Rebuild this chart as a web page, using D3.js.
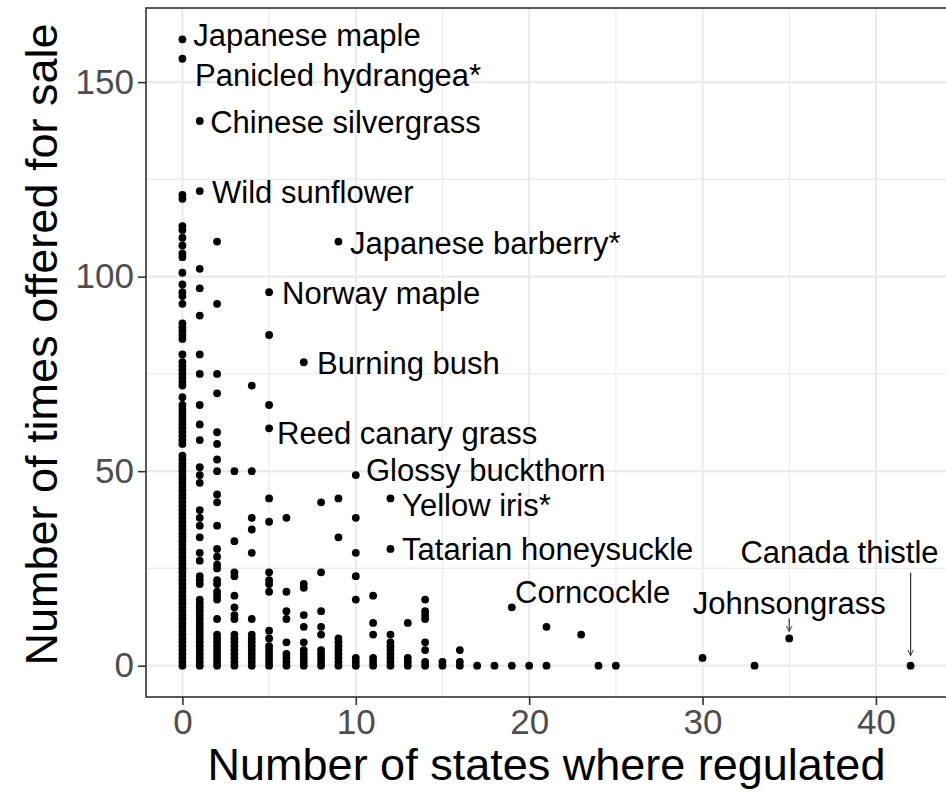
<!DOCTYPE html>
<html>
<head>
<meta charset="utf-8">
<script src="https://cdn.jsdelivr.net/npm/d3@7"></script>
<style>
  html, body { margin: 0; padding: 0; background: #fff; }
  svg { display: block; font-family: "Liberation Sans", Arial, Helvetica, sans-serif; }
</style>
</head>
<body>
<svg id="chart" width="946" height="802"></svg>
<script>
// ---- Data: number of states where regulated (x) and times offered for sale (y), per x column ----
const statesRegulated = [0, 1, 2, 3, 4, 5, 6, 7, 8, 9, 10, 11, 12, 13, 14, 15, 16, 17, 18, 19, 20, 21, 23, 24, 25, 30, 33, 35, 42];
const timesOffered = [
  [0,1,2,3,4,5,6,7,8,9,10,11,12,13,14,15,16,17,18,19,20,21,22,23,24,25,26,27,28,29,30,31,32,33,34,35,36,37,38,39,40,41,42,43,44,45,46,47,48,49,50,51,52,53,54,
   57,58,59,60,61,62,63,64,65,66,67,69,72,73,74,75,76,77,78,80,84,85,86,87,88,93,95,96,98,101,105,106,108,110,112,113,120,121,156,161],
  [0,1,2,3,4,5,6,7,8,9,10,11,12,13,14,15,16,17,21,22,23,27,29,33,36,38,40,47,49,51,58,62,67,75,80,90,97,102,122,140],
  [0,1,2,3,4,5,6,7,8,12,17,18,19,21,22,25,26,28,30,36,42,44,50,53,57,60,70,75,93,109],
  [0,1,2,3,4,5,6,7,8,12,13,15,18,23,24,32,50],
  [0,1,2,3,4,5,6,7,8,12,29,35,38,50,72],
  [0,1,2,3,4,5,7,9,19,21,22,24,37,43,61,67,85,96],
  [0,1,2,3,6,12,14,19,38],
  [0,1,2,3,4,6,10,13,20,21,78],
  [0,1,2,3,4,8,10,14,24,42],
  [0,1,2,3,4,5,6,7,33,43,109],
  [0,1,2,17,23,29,38,49],
  [0,1,2,8,11,18],
  [0,1,2,3,4,5,6,8,30,43],
  [0,1,2,11],
  [0,1,4,6,12,13,14,17],
  [0,1],
  [0,1,4],
  [0],
  [0],
  [0,15],
  [0],
  [0,10],
  [8],
  [0],
  [0],
  [2],
  [0],
  [7],
  [0]
];

// ---- Annotations: species name, point it refers to, and label anchor (data units) ----
const labelNames = ["Japanese maple", "Panicled hydrangea*", "Chinese silvergrass", "Wild sunflower",
  "Japanese barberry*", "Norway maple", "Burning bush", "Reed canary grass", "Glossy buckthorn",
  "Yellow iris*", "Tatarian honeysuckle", "Corncockle", "Johnsongrass", "Canada thistle"];
const labelPointX = [0, 0, 1, 1, 9, 5, 7, 5, 10, 12, 12, 19, 35, 42];
const labelPointY = [161, 156, 140, 122, 109, 96, 78, 61, 49, 43, 30, 15, 7, 0];
const labelX = [0.62, 0.73, 1.6, 1.71, 9.67, 5.75, 7.77, 5.46, 10.59, 12.67, 12.67, 19.19, 35.0, 37.9];
const labelY = [162.1, 151.8, 139.7, 121.8, 108.7, 95.8, 77.8, 59.9, 50.3, 41.4, 30.1, 19.0, 16.2, 29.3];
const labelAnchor = ["start", "start", "start", "start", "start", "start", "start", "start", "start",
  "start", "start", "start", "middle", "middle"];
// arrows (data units): from label towards point
const arrowLabels = ["Johnsongrass", "Canada thistle"];
const arrowFromY = [12.1, 23.9];
const arrowToY = [8.8, 2.6];

const xTicks = [0, 10, 20, 30, 40];
const yTicks = [0, 50, 100, 150];
const xMinor = [5, 15, 25, 35];
const yMinor = [25, 75, 125];

const xTitle = "Number of states where regulated";
const yTitle = "Number of times offered for sale";

// ---- Layout ----
const svg = d3.select("#chart");
const panel = { left: 146, top: 8, right: 947, bottom: 697 };

const x = d3.scaleLinear().domain([-2.1, 44.1]).range([panel.left, panel.right]);
const y = d3.scaleLinear().domain([-8.05, 169.05]).range([panel.bottom, panel.top]);

svg.append("rect").attr("width", 946).attr("height", 802).attr("fill", "#fff");

svg.append("clipPath").attr("id", "clip").append("rect")
  .attr("x", panel.left).attr("y", panel.top)
  .attr("width", panel.right - panel.left).attr("height", panel.bottom - panel.top);

const grid = svg.append("g").attr("clip-path", "url(#clip)");
grid.selectAll(".vminor").data(xMinor).enter().append("line")
  .attr("x1", d => x(d)).attr("x2", d => x(d)).attr("y1", panel.top).attr("y2", panel.bottom)
  .attr("stroke", "#EBEBEB").attr("stroke-width", 1.1);
grid.selectAll(".hminor").data(yMinor).enter().append("line")
  .attr("y1", d => y(d)).attr("y2", d => y(d)).attr("x1", panel.left).attr("x2", panel.right)
  .attr("stroke", "#EBEBEB").attr("stroke-width", 1.1);
grid.selectAll(".vmajor").data(xTicks).enter().append("line")
  .attr("x1", d => x(d)).attr("x2", d => x(d)).attr("y1", panel.top).attr("y2", panel.bottom)
  .attr("stroke", "#EBEBEB").attr("stroke-width", 2.2);
grid.selectAll(".hmajor").data(yTicks).enter().append("line")
  .attr("y1", d => y(d)).attr("y2", d => y(d)).attr("x1", panel.left).attr("x2", panel.right)
  .attr("stroke", "#EBEBEB").attr("stroke-width", 2.2);

// points
const points = [];
statesRegulated.forEach((sx, i) => timesOffered[i].forEach(v => points.push({ sx, v })));
const plot = svg.append("g").attr("clip-path", "url(#clip)");
plot.selectAll("circle").data(points).enter().append("circle")
  .attr("cx", d => x(d.sx)).attr("cy", d => y(d.v)).attr("r", 3.9).attr("fill", "#000");

// arrows
const defs = svg.append("defs");
defs.append("marker").attr("id", "arrowhead")
  .attr("viewBox", "0 0 10 10").attr("refX", 9).attr("refY", 5)
  .attr("markerWidth", 7).attr("markerHeight", 7).attr("orient", "auto")
  .attr("markerUnits", "userSpaceOnUse")
  .append("path").attr("d", "M1,1 L9,5 L1,9").attr("fill", "none").attr("stroke", "#333").attr("stroke-width", 1.3);

arrowLabels.forEach((name, i) => {
  const j = labelNames.indexOf(name);
  plot.append("line")
    .attr("x1", x(labelPointX[j])).attr("x2", x(labelPointX[j]))
    .attr("y1", y(arrowFromY[i])).attr("y2", y(arrowToY[i]))
    .attr("stroke", "#333").attr("stroke-width", 1.2)
    .attr("marker-end", "url(#arrowhead)");
});

// labels
plot.selectAll("text.lab").data(labelNames).enter().append("text")
  .attr("class", "lab")
  .attr("x", (d, i) => x(labelX[i])).attr("y", (d, i) => y(labelY[i]))
  .attr("dy", "0.36em")
  .attr("text-anchor", (d, i) => labelAnchor[i])
  .attr("font-size", 31).attr("fill", "#000")
  .text(d => d);

// border
svg.append("rect")
  .attr("x", panel.left).attr("y", panel.top)
  .attr("width", panel.right - panel.left).attr("height", panel.bottom - panel.top)
  .attr("fill", "none").attr("stroke", "#333").attr("stroke-width", 1.6);

// axes
const xAxis = svg.append("g").attr("transform", `translate(0,${panel.bottom})`)
  .call(d3.axisBottom(x).tickValues(xTicks).tickSize(8).tickPadding(4));
const yAxis = svg.append("g").attr("transform", `translate(${panel.left},0)`)
  .call(d3.axisLeft(y).tickValues(yTicks).tickSize(8).tickPadding(4));
[xAxis, yAxis].forEach(g => {
  g.select(".domain").remove();
  g.selectAll(".tick line").attr("stroke", "#333").attr("stroke-width", 1.6);
  g.selectAll(".tick text").attr("fill", "#4D4D4D").attr("font-size", 35)
    .attr("font-family", "'Liberation Sans', Arial, Helvetica, sans-serif");
});

// titles
svg.append("text").attr("x", (panel.left + panel.right) / 2).attr("y", 780)
  .attr("text-anchor", "middle").attr("font-size", 45).attr("fill", "#000").text(xTitle);
svg.append("text")
  .attr("transform", `translate(57,${(panel.top + panel.bottom) / 2 - 8}) rotate(-90)`)
  .attr("text-anchor", "middle").attr("font-size", 45).attr("fill", "#000").text(yTitle);
</script>
</body>
</html>
